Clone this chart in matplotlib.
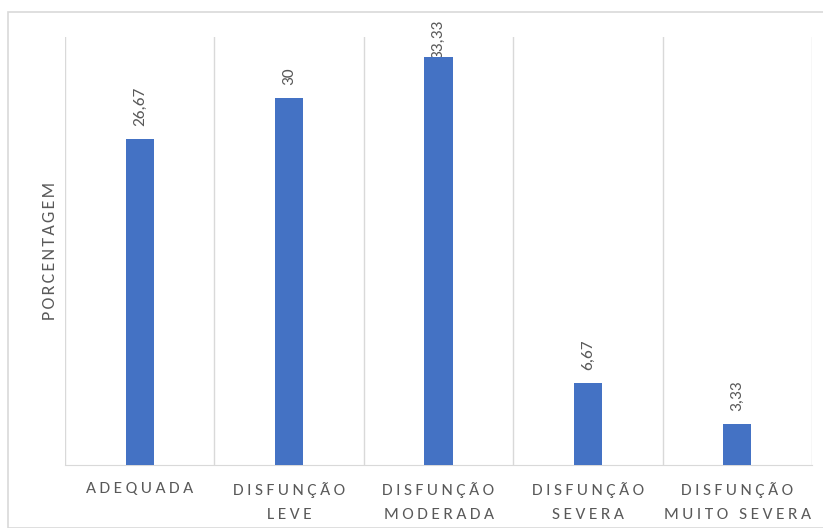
import matplotlib
matplotlib.use("Agg")
import matplotlib.pyplot as plt
from matplotlib import font_manager
from matplotlib.patches import Rectangle

categories = ["ADEQUADA", "DISFUNÇÃO\nLEVE", "DISFUNÇÃO\nMODERADA", "DISFUNÇÃO\nSEVERA", "DISFUNÇÃO\nMUITO SEVERA"]
values = [26.67, 30, 33.33, 6.67, 3.33]
value_labels = ["26,67", "30", "33,33", "6,67", "3,33"]

BAR = "#4472C4"
TXT = "#595959"
GRID = "#D9D9D9"
DPI = 100

available = {f.name for f in font_manager.fontManager.ttflist}


def pick(*names):
    for n in names:
        if n in available:
            return n
    return "DejaVu Sans"


body = pick("Carlito", "Open Sans", "DejaVu Sans")


def spaced(label, sep="\u2009"):
    # imitate the character spacing of the original labels
    return "\n".join(sep.join(line) for line in label.split("\n"))


fig = plt.figure(figsize=(8.23, 5.28), dpi=DPI)
fig.patches.append(Rectangle((8 / 823, 0), 1, 1 - 12 / 528, transform=fig.transFigure,
                             fill=False, edgecolor="#D9D9D9", linewidth=1.2))
ax = fig.add_axes([65 / 823, 1 - 465 / 528, (812 - 65) / 823, (465 - 37) / 528])

x = range(len(categories))
ax.bar(x, values, width=0.19, color=BAR, zorder=3)
ax.set_xlim(-0.5, len(categories) - 0.5)
ax.set_ylim(0, 35)

for b in [i - 0.5 for i in range(len(categories) + 1)]:
    ax.axvline(b, color=GRID, linewidth=1, zorder=1)

offset = 9.5
labels = []
for xi, v, lab in zip(x, values, value_labels):
    t = ax.annotate(lab, (xi, v), xytext=(0, offset), textcoords="offset points",
                    rotation=90, ha="center", va="bottom", color=TXT, fontsize=12.5,
                    family=body, annotation_clip=False, zorder=2)
    labels.append(t)

ax.set_xticks(list(x))
ax.set_xticklabels([spaced(c) for c in categories], color=TXT, fontsize=12.5,
                   family=body, linespacing=1.95)
ax.tick_params(axis="x", length=0, pad=12)
ax.set_yticks([])
for s in ax.spines.values():
    s.set_visible(False)
ax.spines["bottom"].set_visible(True)
ax.spines["bottom"].set_color(GRID)

fig.text(50 / 823, 1 - 251 / 528, spaced("PORCENTAGEM", "\u200a"), rotation=90,
         ha="center", va="center", color=TXT, fontsize=13, family=body)

# keep data labels inside the chart area, like the original (label slides into the bar)
fig.canvas.draw()
renderer = fig.canvas.get_renderer()
limit = fig.bbox.height - 20
for t in labels:
    bb = t.get_window_extent(renderer)
    if bb.y1 > limit:
        t.xyann = (0, offset - (bb.y1 - limit) * 72 / DPI)

fig.savefig("out.png", dpi=DPI)
